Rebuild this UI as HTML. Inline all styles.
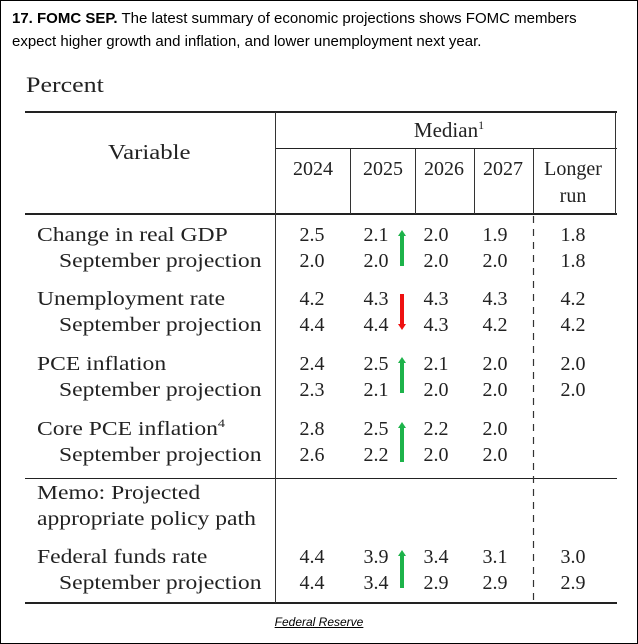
<!DOCTYPE html>
<html><head><meta charset="utf-8"><style>
body{margin:0;width:638px;height:644px;background:#fff;overflow:hidden;position:relative;font-family:"Liberation Serif",serif;color:#222}
.frame{position:absolute;left:0;top:0;width:636px;height:642px;border:1px solid #000}
.t{position:absolute;font-family:"Liberation Sans",sans-serif;font-size:15px;color:#000;left:12px;line-height:23px;white-space:nowrap}
.s{position:absolute;font-size:20px;white-space:nowrap;line-height:20px;transform:scaleX(1.18);transform-origin:0 0}
.c{position:absolute;font-size:20px;line-height:20px;transform:translateX(-50%);white-space:nowrap}
.h{position:absolute;background:#222}
.v{position:absolute;background:#333;width:1px}
sup{font-size:12px;line-height:0;vertical-align:8px}
</style></head><body>
<div class="frame"></div>
<div class="t" style="top:7px"><b>17. FOMC SEP.</b> The latest summary of economic projections shows FOMC members<br>expect higher growth and inflation, and lower unemployment next year.</div>
<div class="s" style="left:26px;top:75px;font-size:22px">Percent</div>
<div class="h" style="left:25px;top:111px;width:592px;height:2px"></div>
<div class="h" style="left:275px;top:148px;width:342px;height:1px"></div>
<div class="h" style="left:25px;top:213px;width:592px;height:2px"></div>
<div class="h" style="left:25px;top:478px;width:592px;height:1px"></div>
<div class="h" style="left:25px;top:602px;width:592px;height:2px"></div>
<div class="v" style="left:275px;top:112px;height:491px"></div>
<div class="v" style="left:615px;top:112px;height:102px"></div>
<div class="v" style="left:350px;top:149px;height:65px"></div>
<div class="v" style="left:415px;top:149px;height:65px"></div>
<div class="v" style="left:474px;top:149px;height:65px"></div>
<div class="v" style="left:533px;top:149px;height:65px"></div>
<svg style="position:absolute;left:532px;top:216px" width="3" height="386"><line x1="1.5" y1="0" x2="1.5" y2="386" stroke="#333" stroke-width="1.2" stroke-dasharray="7,6"/></svg>
<div class="s" style="left:108px;top:142px;font-size:21px">Variable</div>
<div class="c" style="left:449px;top:120px;font-size:21px">Median<sup>1</sup></div>
<div class="c" style="left:313px;top:159px">2024</div>
<div class="c" style="left:383px;top:159px">2025</div>
<div class="c" style="left:444px;top:159px">2026</div>
<div class="c" style="left:503px;top:159px">2027</div>
<div class="c" style="left:573px;top:159px">Longer</div>
<div class="c" style="left:573px;top:186px">run</div>

<div class="s" style="left:37px;top:225px">Change in real GDP</div>
<div class="s" style="left:59px;top:251px">September projection</div>
<div class="s" style="left:37px;top:289px">Unemployment rate</div>
<div class="s" style="left:59px;top:315px">September projection</div>
<div class="s" style="left:37px;top:354px">PCE inflation</div>
<div class="s" style="left:59px;top:380px">September projection</div>
<div class="s" style="left:37px;top:419px">Core PCE inflation<sup>4</sup></div>
<div class="s" style="left:59px;top:445px">September projection</div>
<div class="s" style="left:37px;top:483px">Memo: Projected</div>
<div class="s" style="left:37px;top:509px">appropriate policy path</div>
<div class="s" style="left:37px;top:547px">Federal funds rate</div>
<div class="s" style="left:59px;top:573px">September projection</div>

<div id="nums"></div>
<script>
var rows=[[225,["2.5","2.1","2.0","1.9","1.8"]],[251,["2.0","2.0","2.0","2.0","1.8"]],
[289,["4.2","4.3","4.3","4.3","4.2"]],[315,["4.4","4.4","4.3","4.2","4.2"]],
[354,["2.4","2.5","2.1","2.0","2.0"]],[380,["2.3","2.1","2.0","2.0","2.0"]],
[419,["2.8","2.5","2.2","2.0",""]],[445,["2.6","2.2","2.0","2.0",""]],
[547,["4.4","3.9","3.4","3.1","3.0"]],[573,["4.4","3.4","2.9","2.9","2.9"]]];
var xs=[312,376,436,495,573],h="";
rows.forEach(function(r){r[1].forEach(function(v,i){h+='<div class="c" style="left:'+xs[i]+'px;top:'+r[0]+'px">'+v+'</div>';});});
function arr(y1,y2,col,up){
 var s='<svg style="position:absolute;left:396px;top:'+y1+'px" width="12" height="'+(y2-y1)+'">';
 var H=y2-y1;
 if(up) s+='<polygon points="6,0 10,6 2,6" fill="'+col+'"/><rect x="4" y="5" width="4" height="'+(H-5)+'" fill="'+col+'"/>';
 else s+='<rect x="4" y="0" width="4" height="'+(H-5)+'" fill="'+col+'"/><polygon points="6,'+H+' 10,'+(H-6)+' 2,'+(H-6)+'" fill="'+col+'"/>';
 return s+'</svg>';}
h+=arr(230,266,"#1db34a",1)+arr(294,330,"#ee1111",0)+arr(357,393,"#1db34a",1)+arr(422,462,"#1db34a",1)+arr(550,588,"#1db34a",1);
document.getElementById("nums").innerHTML=h;
</script>
<div style="position:absolute;left:0;width:638px;top:615px;text-align:center;font-family:'Liberation Sans',sans-serif;font-size:12px;font-style:italic;text-decoration:underline;color:#000">Federal Reserve</div>
</body></html>
